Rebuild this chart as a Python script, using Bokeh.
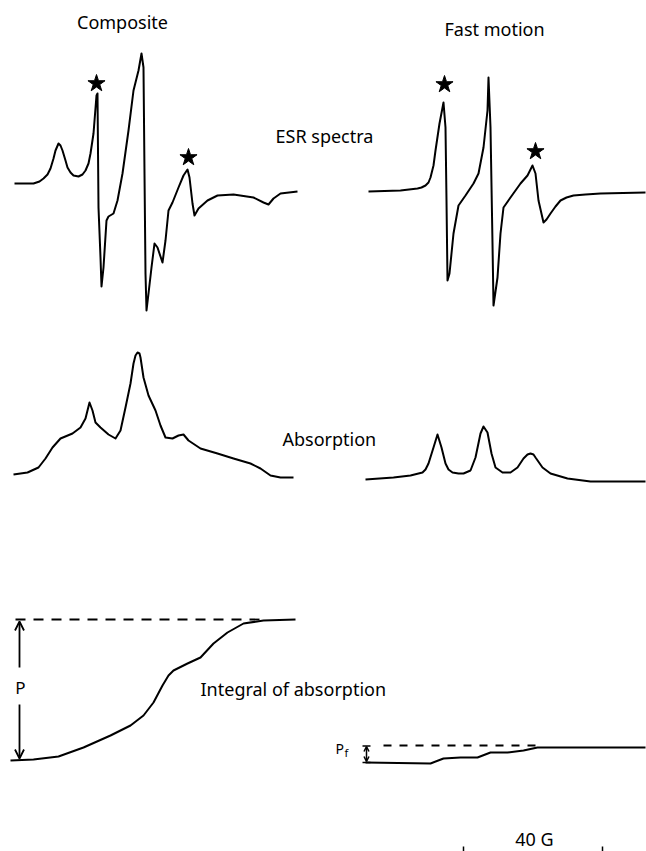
from bokeh.plotting import figure
from bokeh.models import Range1d, Arrow, OpenHead, ColumnDataSource
from bokeh.core.properties import value
from bokeh.embed import file_html
from bokeh.resources import INLINE

# ---- data (schematic coordinates) ----
comp_esr_x = [14, 33, 39, 43, 47, 50, 53, 55, 58, 60, 62, 65, 67, 70, 73, 78, 82, 85, 88, 90, 93, 96, 97, 98, 100, 101, 103, 106, 108, 113, 117, 122, 128, 133, 138, 141, 143, 144, 145, 146, 148, 151, 154, 157, 162, 165, 168, 172, 178, 183, 187, 189, 192, 194, 198, 207, 217, 233, 253, 263, 268, 273, 280, 297]
comp_esr_y = [183, 183, 181, 178, 174, 168, 158, 150, 143, 145, 150, 160, 167, 172, 175, 176, 174, 170, 163, 153, 133, 95, 93, 207, 257, 286, 267, 220, 216, 213, 200, 173, 130, 90, 70, 53, 67, 173, 273, 310, 293, 267, 243, 247, 262, 240, 210, 202, 187, 175, 169, 177, 203, 215, 208, 200, 195, 194, 197, 202, 204, 198, 193, 191]

fast_esr_x = [368, 400, 417, 421, 425, 428, 430, 433, 435, 439, 443, 445, 446, 447, 449, 453, 458, 465, 473, 478, 483, 487, 488, 490, 492, 493, 497, 500, 503, 510, 520, 527, 532, 535, 538, 543, 546, 550, 555, 560, 566, 573, 585, 600, 645]
fast_esr_y = [191, 190, 188, 187, 185, 182, 177, 165, 150, 123, 102, 127, 200, 280, 273, 233, 205, 195, 183, 173, 147, 110, 77, 127, 243, 305, 277, 233, 207, 197, 183, 175, 165, 173, 200, 222, 219, 213, 206, 200, 197, 195, 194, 193, 192]

comp_abs_x = [13, 27, 38, 45, 52, 60, 72, 80, 85, 89, 92, 95, 100, 108, 115, 120, 125, 130, 133, 135, 137, 139, 140, 143, 148, 155, 160, 165, 172, 178, 183, 188, 200, 217, 233, 250, 260, 270, 280, 293]
comp_abs_y = [474, 472, 467, 458, 447, 438, 433, 427, 418, 402, 410, 422, 427, 434, 438, 430, 407, 383, 363, 355, 352, 353, 357, 377, 395, 410, 425, 437, 438, 435, 434, 440, 448, 453, 458, 463, 468, 475, 477, 477]

fast_abs_x = [365, 393, 410, 418, 422, 425, 428, 433, 437, 441, 445, 448, 452, 458, 463, 470, 475, 480, 483, 487, 491, 495, 502, 510, 517, 523, 527, 530, 533, 535, 542, 550, 567, 590, 617, 645]
fast_abs_y = [479, 477, 475, 473, 472, 469, 463, 447, 434, 447, 463, 469, 472, 473, 473, 470, 457, 433, 426, 432, 453, 467, 472, 472, 467, 458, 454, 453, 454, 457, 467, 473, 478, 481, 481, 481]

comp_int_x = [10, 33, 58, 83, 110, 130, 143, 153, 162, 168, 173, 187, 200, 213, 227, 243, 263, 295]
comp_int_y = [760, 759, 756, 747, 735, 725, 715, 702, 685, 675, 670, 663, 657, 643, 632, 623, 620, 619]

fast_int_x = [365, 430, 443, 460, 477, 490, 507, 523, 537, 547, 583, 645]
fast_int_y = [762, 763, 758, 757, 757, 752, 752, 750, 747, 747, 747, 747]

star_x = [96, 188, 444, 535]
star_y = [83, 157, 84, 151]

label_text = ["Composite", "Fast motion", "ESR spectra", "Absorption", "Integral of absorption", "40 G"]
label_x = [122, 494, 275, 282, 200, 534]
label_y = [21, 28, 135, 438, 688, 838]
label_align = ["center", "center", "left", "left", "left", "center"]

W, H = 646, 851
p = figure(width=W, height=H, output_backend="svg", toolbar_location=None,
           x_range=Range1d(0, W), y_range=Range1d(H, 0), min_border=0)
p.axis.visible = False
p.xgrid.visible = False
p.ygrid.visible = False
p.outline_line_color = None

lw = 2
for xs, ys in [(comp_esr_x, comp_esr_y), (fast_esr_x, fast_esr_y),
               (comp_abs_x, comp_abs_y), (fast_abs_x, fast_abs_y),
               (comp_int_x, comp_int_y), (fast_int_x, fast_int_y)]:
    p.line(xs, ys, line_color="black", line_width=lw, line_join="round")

p.scatter(star_x, star_y, marker="star", size=18, fill_color="black", line_color="black")

# dashed reference lines for integrals
p.line([15, 262], [619, 619], line_color="black", line_width=1.8, line_dash="10 8")
p.line([383, 540], [745, 745], line_color="black", line_width=1.8, line_dash="8 8")

# P arrow
p.add_layout(Arrow(end=OpenHead(size=9, line_width=1.8), x_start=19, y_start=667, x_end=19, y_end=621,
                   line_width=1.8))
p.add_layout(Arrow(end=OpenHead(size=9, line_width=1.8), x_start=19, y_start=704, x_end=19, y_end=758,
                   line_width=1.8))
# Pf double arrow
p.add_layout(Arrow(start=OpenHead(size=5, line_width=1.5), end=OpenHead(size=5, line_width=1.5),
                   x_start=366, y_start=746, x_end=366, y_end=761, line_width=1.5))
p.line([362, 370], [745.5, 745.5], line_color="black", line_width=1.5)
p.line([362, 370], [762, 762], line_color="black", line_width=1.5)

src = ColumnDataSource(dict(x=label_x, y=label_y, t=label_text, a=label_align))
p.text(x="x", y="y", text="t", text_align="a", text_baseline="middle", source=src,
       text_font=value("Noto Sans"), text_font_size="18px", text_color="black")

p.text(x=[20], y=[687], text=["P"], text_align="center", text_baseline="middle",
       text_font=value("Noto Sans"), text_font_size="17px", text_color="black")
p.text(x=[335], y=[748], text=["P"], text_align="left", text_baseline="middle",
       text_font=value("Noto Sans"), text_font_size="14px", text_color="black")
p.text(x=[344], y=[752], text=["f"], text_align="left", text_baseline="middle",
       text_font=value("Noto Sans"), text_font_size="11px", text_color="black")

# 40 G scale bar end ticks
p.segment(x0=[463, 602], y0=[846, 846], x1=[463, 602], y1=[851, 851], line_color="black", line_width=1.5)

open("out.html", "w").write(file_html(p, INLINE))
